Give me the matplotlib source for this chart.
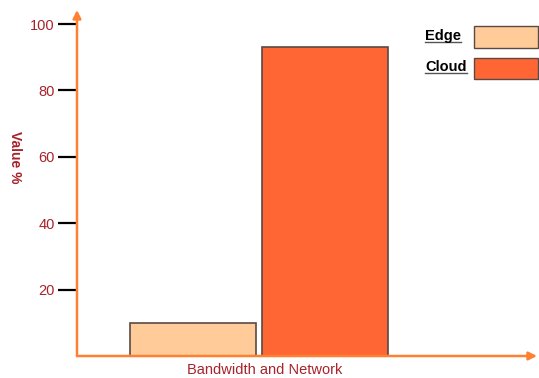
import matplotlib
matplotlib.use("Agg")
import matplotlib.pyplot as plt
from matplotlib.patches import Rectangle
from matplotlib.lines import Line2D

plt.rcParams['font.family'] = ['Liberation Sans', 'DejaVu Sans']

category = "Bandwidth and Network"
series_names = ["Edge", "Cloud"]
series_values = [10, 93]
series_colors = ["#FFCC99", "#FF6633"]
y_ticks = [20, 40, 60, 80, 100]

W, H = 539, 378
fig = plt.figure(figsize=(W / 100, H / 100), dpi=100)

# axes in pixel placement
left, right, bottom, top = 77, 537, 356, 10
ax = fig.add_axes([left / W, 1 - bottom / H, (right - left) / W, (bottom - top) / H])
ax.set_xlim(0, 1)
ax.set_ylim(0, (bottom - top) / 3.32)

label_red = "#A8232B"
axis_orange = "#FF8030"

center = 0.396
width = 0.274
offsets = [-0.1435, 0.1435]
for name, val, col, off in zip(series_names, series_values, series_colors, offsets):
    ax.bar(center + off, val, width=width, color=col, edgecolor="#5a4a44", linewidth=1.2, zorder=2)

for s in ax.spines.values():
    s.set_visible(False)

# orange axes with arrow heads
ax.annotate("", xy=(1.0, 0), xytext=(0, 0), xycoords="axes fraction",
            arrowprops=dict(arrowstyle="-|>", color=axis_orange, lw=1.8, mutation_scale=12,
                            shrinkA=0, shrinkB=0), zorder=3)
ax.annotate("", xy=(0, 1.0), xytext=(0, 0), xycoords="axes fraction",
            arrowprops=dict(arrowstyle="-|>", color=axis_orange, lw=1.8, mutation_scale=12,
                            shrinkA=0, shrinkB=0), zorder=3)

ax.set_yticks(y_ticks)
ax.set_yticklabels([str(t) for t in y_ticks])
ax.tick_params(axis="y", direction="out", length=14, width=1.6, color="black",
               labelcolor=label_red, labelsize=10.5, pad=2)
ax.set_xticks([])

# axis titles
fig.text(265 / W, 1 - 370 / H, category, ha="center", va="center",
         color=label_red, fontsize=10.5)
fig.text(15 / W, 1 - 157 / H, "Value %", ha="center", va="center", rotation=-90,
         color=label_red, fontsize=10, fontweight="bold")

# legend drawn as underlined labels with swatches
leg_rows = [(36, 42, 26, 48), (67, 73, 58, 79)]
for name, col, (ty, uy, y0, y1) in zip(series_names, series_colors, leg_rows):
    t = fig.text(425 / W, 1 - ty / H, name, ha="left", va="center",
                 fontsize=10.5, fontweight="bold", color="black")
    fig.canvas.draw()
    bb = t.get_window_extent()
    fig.add_artist(Line2D([bb.x0 / W, bb.x1 / W], [(H - uy) / H] * 2,
                          color="#555555", lw=1.0, transform=fig.transFigure))
    fig.add_artist(Rectangle((474 / W, 1 - y1 / H), (538 - 474) / W, (y1 - y0) / H,
                             facecolor=col, edgecolor="#5a4a44", lw=1.0,
                             transform=fig.transFigure))

fig.savefig("out.png", dpi=100)
